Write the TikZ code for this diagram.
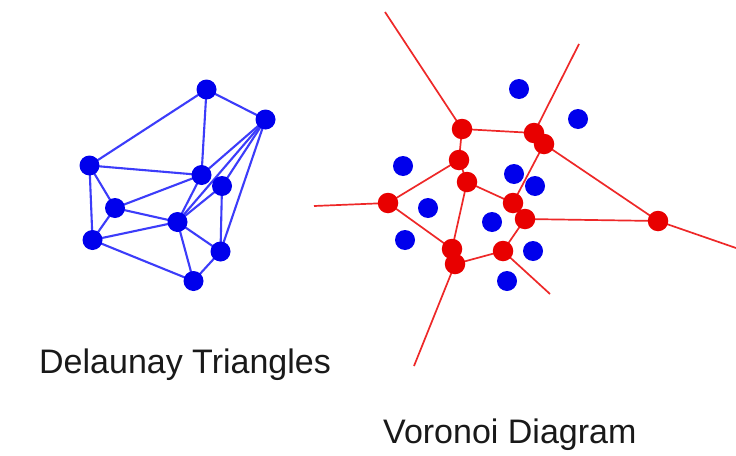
\documentclass[tikz,border=0pt]{standalone}
\usepackage{fontspec}
\setmainfont{Liberation Sans}
\usetikzlibrary{backgrounds}
\definecolor{dotblue}{RGB}{0,0,236}
\definecolor{lineblue}{RGB}{60,60,250}
\definecolor{dotred}{RGB}{232,0,0}
\definecolor{linered}{RGB}{238,40,40}
\tikzset{
  bdot/.style={circle,fill=dotblue,draw=none,minimum size=20pt,inner sep=0pt},
  rdot/.style={circle,fill=dotred,draw=none,minimum size=20.5pt,inner sep=0pt},
  dedge/.style={draw=lineblue,line width=2.1pt},
  vedge/.style={draw=linered,line width=1.7pt},
  caption/.style={anchor=base west,inner sep=0pt,font=\fontsize{34}{37}\selectfont,text=black!90}
}
\begin{document}
\begin{tikzpicture}[x=1pt,y=-1pt]
\useasboundingbox (0,0) rectangle (736,455);
% Delaunay points
\node[bdot] (A) at (206.5,89.5) {};
\node[bdot] (B) at (265.5,119.5) {};
\node[bdot] (C) at (89.5,165.5) {};
\node[bdot] (D) at (201.5,175) {};
\node[bdot] (E) at (222,186) {};
\node[bdot] (F) at (115,208) {};
\node[bdot] (G) at (177.5,222) {};
\node[bdot] (H) at (92.5,240) {};
\node[bdot] (I) at (220.5,251.5) {};
\node[bdot] (J) at (193.5,281) {};
% Voronoi sites
\node[bdot] (sA) at (519,89) {};
\node[bdot] (sB) at (578,119) {};
\node[bdot] (sC) at (403,166) {};
\node[bdot] (sD) at (514,174) {};
\node[bdot] (sE) at (535,186) {};
\node[bdot] (sF) at (428,208) {};
\node[bdot] (sG) at (492,222) {};
\node[bdot] (sH) at (405,240) {};
\node[bdot] (sI) at (533,251) {};
\node[bdot] (sJ) at (507,281) {};
% Voronoi vertices
\node[rdot] (V1) at (462,129) {};
\node[rdot] (V2) at (534,133) {};
\node[rdot] (V3) at (544,144) {};
\node[rdot] (V4) at (459,160) {};
\node[rdot] (V5) at (467,182) {};
\node[rdot] (V6) at (388,203) {};
\node[rdot] (V7) at (513,203) {};
\node[rdot] (V8) at (525,219) {};
\node[rdot] (V9) at (658,221) {};
\node[rdot] (V10) at (452,249) {};
\node[rdot] (V11) at (455,264) {};
\node[rdot] (V12) at (503,251) {};
% ray ends
\coordinate (R1) at (385,12);
\coordinate (R2) at (579,44);
\coordinate (R6) at (314,206);
\coordinate (R9) at (736,248);
\coordinate (R11) at (414,366);
\coordinate (R12) at (550,294);
\begin{pgfonlayer}{background}
\fill[white] (0,0) rectangle (736,455);
\foreach \a/\b in {A/B,A/C,A/D,B/D,B/G,B/E,B/I,C/D,C/F,C/H,D/F,D/G,E/G,E/I,F/H,F/G,G/H,G/J,G/I,H/J,I/J}
  \draw[dedge] (\a.center) -- (\b.center);
\foreach \a/\b in {V1/V2,V1/V4,V2/V3,V3/V7,V3/V9,V4/V6,V4/V5,V5/V7,V5/V10,V6/V10,V7/V8,V8/V9,V8/V12,V10/V11,V11/V12,V1/R1,V2/R2,V6/R6,V9/R9,V11/R11,V12/R12}
  \draw[vedge] (\a.center) -- (\b.center);
\end{pgfonlayer}
\node[caption] (t1) at (39,373.3) {Delaunay Triangles};
\node[caption] (t2) at (383,443.3) {Voronoi Diagram};
\end{tikzpicture}
\end{document}
